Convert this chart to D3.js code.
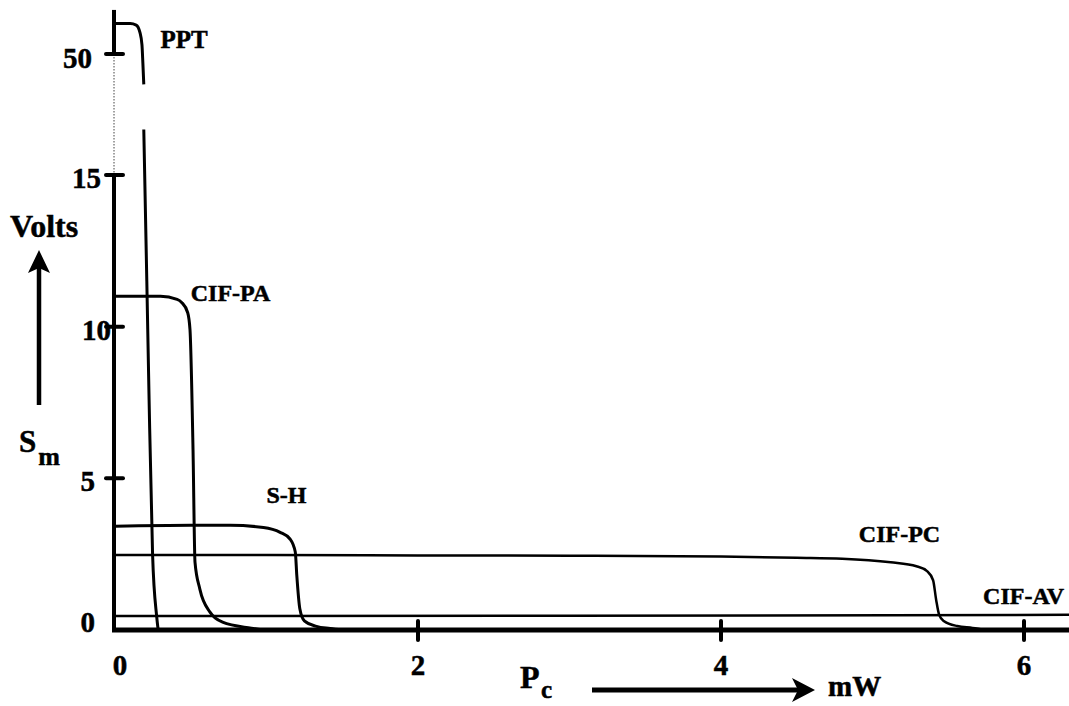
<!DOCTYPE html>
<html>
<head>
<meta charset="utf-8">
<script src="https://cdn.jsdelivr.net/npm/d3@7"></script>
<style>
  html, body { margin: 0; padding: 0; background: #fff; }
  text { font-family: "Liberation Serif", "Times New Roman", serif; font-weight: bold; fill: #000;
         stroke: #000; stroke-width: 0.5px; }
</style>
</head>
<body>
<svg id="chart"></svg>
<script>
(function drawChart() {
  var w = 1069;
  var h = 706;

  // tick values / labels
  var xTickValues  = [2, 4, 6];
  var xLabelValues = [0, 2, 4, 6];
  var yTickValues  = [5, 10, 15];
  var yLabelValues = [0, 5, 10, 15];
  var yUpperTicks  = [50];

  // curves: [P_c (mW), S_m (V)]
  var pptUpper = [[0, 51.0], [0.10, 51.0], [0.14, 50.95], [0.165, 50.7], [0.178, 50.3], [0.184, 49.7], [0.19, 49.0]];
  var pptLower = [[0.19, 16.5], [0.21, 11.5], [0.225, 7.6], [0.248, 2.5], [0.275, 0.45], [0.285, 0]];
  var cifPA = [[0, 11.0], [0.30, 11.0], [0.41, 10.9], [0.44, 10.8], [0.48, 10.46], [0.495, 9.9],
               [0.515, 5.95], [0.528, 2.24], [0.56, 1.35], [0.627, 0.59], [0.71, 0.26], [0.90, 0.06], [0.98, 0]];
  var sH = [[0, 3.42], [0.5, 3.45], [0.76, 3.45], [0.98, 3.38], [1.09, 3.22], [1.155, 3.0], [1.19, 2.57],
            [1.2, 1.8], [1.22, 0.7], [1.25, 0.3], [1.33, 0.12], [1.42, 0.05], [1.5, 0]];
  var cifPC = [[0, 2.47], [1, 2.47], [2, 2.46], [3, 2.45], [4, 2.42], [4.5, 2.38], [4.8, 2.35], [5.12, 2.23],
               [5.29, 2.1], [5.36, 1.94], [5.40, 1.64], [5.42, 1.0], [5.44, 0.5], [5.47, 0.3], [5.56, 0.13],
               [5.66, 0.07], [5.75, 0]];
  var cifAV = [[0, 0.46], [3, 0.47], [6.3, 0.5]];

  var seriesNames = ["PPT", "CIF-PA", "S-H", "CIF-PC", "CIF-AV"];

  var svg = d3.select('#chart')
    .attr("width", w)
    .attr("height", h);

  var x    = d3.scaleLinear().domain([0, 6]).range([115, 1024]);
  var yLow = d3.scaleLinear().domain([0, 15]).range([630, 175]);
  var yUp  = d3.scaleLinear().domain([50, 51]).range([54, 23.6]);

  var lineLow = d3.line().x(function(d) { return x(d[0]); }).y(function(d) { return yLow(d[1]); })
    .curve(d3.curveMonotoneX);
  var lineUp = d3.line().x(function(d) { return x(d[0]); }).y(function(d) { return yUp(d[1]); })
    .curve(d3.curveMonotoneX);

  // broken y axis: dotted link between the two parts
  svg.append("line")
    .attr("x1", x(0) - 1).attr("x2", x(0) - 1)
    .attr("y1", yUp(50) + 3).attr("y2", yLow(15))
    .attr("stroke", "#444").attr("stroke-width", 1)
    .attr("stroke-dasharray", "1.5,1.5");

  svg.append("line")
    .attr("x1", x(0) - 1).attr("x2", x(0) - 1)
    .attr("y1", yUp(51.45)).attr("y2", yUp(50))
    .attr("stroke", "#000").attr("stroke-width", 4);

  svg.append("line")
    .attr("x1", x(0) - 1).attr("x2", x(0) - 1)
    .attr("y1", yLow(15)).attr("y2", yLow(0) + 2)
    .attr("stroke", "#000").attr("stroke-width", 4);

  // x axis
  svg.append("line")
    .attr("x1", x(0) - 3).attr("x2", w)
    .attr("y1", yLow(0)).attr("y2", yLow(0))
    .attr("stroke", "#000").attr("stroke-width", 5);

  // ticks
  svg.selectAll("line.xtick").data(xTickValues).enter().append("line")
    .attr("class", "xtick")
    .attr("x1", function(d) { return x(d); }).attr("x2", function(d) { return x(d); })
    .attr("y1", yLow(0) - 9).attr("y2", yLow(0) + 10)
    .attr("stroke", "#000").attr("stroke-width", 4).attr("stroke-linecap", "round");

  svg.selectAll("line.ytick").data(yTickValues).enter().append("line")
    .attr("class", "ytick")
    .attr("x1", x(0) - 9).attr("x2", x(0) + 8)
    .attr("y1", function(d) { return yLow(d); }).attr("y2", function(d) { return yLow(d); })
    .attr("stroke", "#000").attr("stroke-width", 4).attr("stroke-linecap", "round");

  svg.selectAll("line.ytickup").data(yUpperTicks).enter().append("line")
    .attr("class", "ytickup")
    .attr("x1", x(0) - 9).attr("x2", x(0) + 8)
    .attr("y1", function(d) { return yUp(d); }).attr("y2", function(d) { return yUp(d); })
    .attr("stroke", "#000").attr("stroke-width", 4).attr("stroke-linecap", "round");

  // tick labels
  svg.selectAll("text.xlab").data(xLabelValues).enter().append("text")
    .attr("class", "xlab")
    .attr("x", function(d) { return x(d) + (d === 0 ? 5 : 0); })
    .attr("y", 675)
    .attr("text-anchor", "middle")
    .attr("font-size", 29)
    .text(function(d) { return d; });

  svg.selectAll("text.ylab").data(yLabelValues).enter().append("text")
    .attr("class", "ylab")
    .attr("x", function(d) { return d === 10 ? 111 : (d === 15 ? 101 : 95); })
    .attr("y", function(d) { return yLow(d) + (d === 0 ? -8 : 3); })
    .attr("dy", "0.34em")
    .attr("text-anchor", "end")
    .attr("font-size", 29)
    .text(function(d) { return d; });

  svg.selectAll("text.ylabup").data(yUpperTicks).enter().append("text")
    .attr("class", "ylabup")
    .attr("x", 92)
    .attr("y", function(d) { return yUp(d) + 4; })
    .attr("dy", "0.34em")
    .attr("text-anchor", "end")
    .attr("font-size", 29)
    .text(function(d) { return d; });

  // curves
  var curves = svg.append("g").attr("fill", "none").attr("stroke", "#000");
  curves.append("path").datum(cifAV).attr("d", lineLow).attr("stroke-width", 2.5);
  curves.append("path").datum(cifPC).attr("d", lineLow).attr("stroke-width", 2.5);
  curves.append("path").datum(sH).attr("d", lineLow).attr("stroke-width", 3);
  curves.append("path").datum(cifPA).attr("d", lineLow).attr("stroke-width", 3);
  curves.append("path").datum(pptLower).attr("d", lineLow).attr("stroke-width", 3);
  curves.append("path").datum(pptUpper).attr("d", lineUp).attr("stroke-width", 3);

  // series labels
  var labelPos = [
    [x(0.30), yUp(50.2), 25],
    [x(0.50), yLow(10.85), 24],
    [x(1.00), yLow(4.2), 24],
    [x(4.91), yLow(2.9), 24],
    [x(5.73), yLow(0.85), 24]
  ];
  svg.selectAll("text.series").data(seriesNames).enter().append("text")
    .attr("class", "series")
    .attr("x", function(d, i) { return labelPos[i][0]; })
    .attr("y", function(d, i) { return labelPos[i][1]; })
    .attr("font-size", function(d, i) { return labelPos[i][2]; })
    .text(function(d) { return d; });

  // y axis title with arrow
  svg.append("text").attr("x", 10).attr("y", 237).attr("font-size", 32).text("Volts");
  svg.append("line").attr("x1", 39).attr("x2", 39).attr("y1", 405).attr("y2", 266)
    .attr("stroke", "#000").attr("stroke-width", 4.5);
  svg.append("path").attr("d", "M39,250 L50,273 L39,268 L28,273 Z").attr("fill", "#000");

  var sm = svg.append("text").attr("x", 19).attr("y", 452).attr("font-size", 31);
  sm.append("tspan").text("S");
  sm.append("tspan").attr("dy", 13).attr("dx", 2).attr("font-size", 26).text("m");

  // x axis title with arrow
  svg.append("text").attr("x", 520).attr("y", 688).attr("font-size", 32).text("P");
  svg.append("text").attr("x", 541).attr("y", 698).attr("font-size", 25).text("c");

  svg.append("line").attr("x1", 592).attr("x2", 800).attr("y1", 690).attr("y2", 690)
    .attr("stroke", "#000").attr("stroke-width", 5);
  svg.append("path").attr("d", "M815,690 L792,678 L798,690 L792,702 Z").attr("fill", "#000");
  svg.append("text").attr("x", 828).attr("y", 696).attr("font-size", 29).text("mW");
})();
</script>
</body>
</html>
